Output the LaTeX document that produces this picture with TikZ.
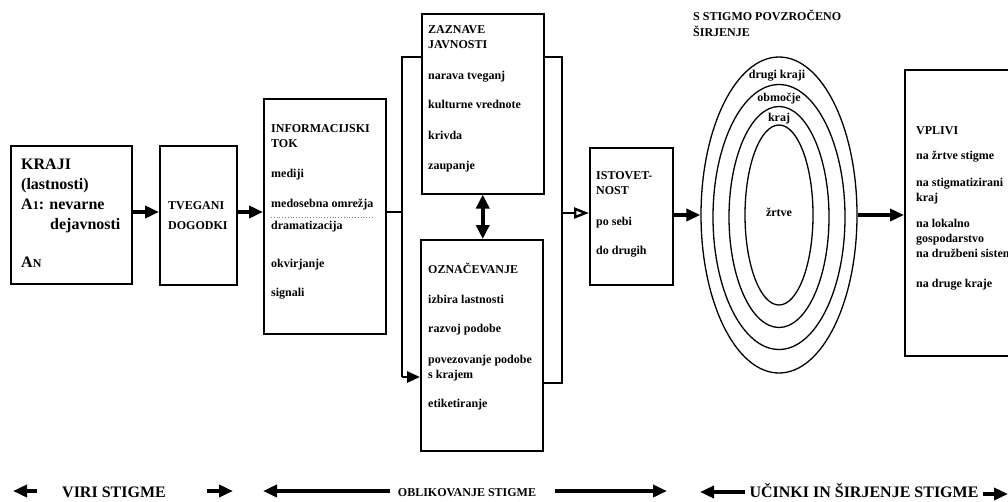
\documentclass[tikz,border=0pt]{standalone}
\usepackage{fontspec}
\setmainfont{Liberation Serif}
\usetikzlibrary{arrows.meta,shapes.geometric}
\begin{document}
\begin{tikzpicture}[x=1pt,y=-1pt,
  box/.style={draw, line width=1.5pt, anchor=north west, inner sep=0pt},
  txt/.style={anchor=base west, inner sep=0pt, font=\bfseries\fontsize{12}{14}\selectfont},
  bigtxt/.style={anchor=base west, inner sep=0pt, font=\bfseries\fontsize{16}{18}\selectfont},
  ctxt/.style={anchor=base, inner sep=0pt, font=\bfseries\fontsize{12}{14}\selectfont},
  fat/.style={line width=3.6pt, -{Triangle[length=14pt,width=12pt]}},
  bus/.style={line width=2.6pt},
  ring/.style={draw, ellipse, line width=1.3pt, inner sep=0pt}]
\useasboundingbox (0,0) rectangle (1008,501);
\clip (0,0) rectangle (1008,501);

% ---------- boxes ----------
\node[box, minimum width=121pt, minimum height=138pt] (kraji) at (10,145) {};
\node[box, minimum width=77pt, minimum height=139pt] (tveg) at (159,145) {};
\node[box, minimum width=122pt, minimum height=235pt] (info) at (263,98) {};
\node[box, minimum width=122pt, minimum height=180pt] (zaz) at (421,13) {};
\node[box, minimum width=122pt, minimum height=211pt] (ozn) at (420,239) {};
\node[box, minimum width=83pt, minimum height=137pt] (ist) at (589,147) {};
\node[box, minimum width=130pt, minimum height=286pt] (vpl) at (904,69) {};

% ---------- texts ----------
\foreach \y/\t [count=\i] in {169/{KRAJI}, 189/{(lastnosti)}, 209/{A{\fontsize{12}{12}\selectfont 1}: nevarne}, 267/{A{\fontsize{12}{12}\selectfont N}}}
  \node[bigtxt] (kr\i) at (21,\y) {\t};
\node[bigtxt] (kr5) at (50,229) {dejavnosti};

\foreach \y/\t [count=\i] in {209/{TVEGANI}, 229/{DOGODKI}}
  \node[txt] (tv\i) at (168,\y) {\t};

\foreach \y/\t [count=\i] in {132/{INFORMACIJSKI}, 147/{TOK}, 177/{mediji}, 207/{medosebna omrežja}, 229/{dramatizacija}, 267/{okvirjanje}, 296/{signali}}
  \node[txt] (in\i) at (271,\y) {\t};
\coordinate (dl1) at (271,217);
\coordinate (dl2) at (373,217);
\draw[gray, line width=0.8pt, dotted] (dl1) -- (dl2);

\foreach \y/\t [count=\i] in {33/{ZAZNAVE}, 48/{JAVNOSTI}, 79/{narava tveganj}, 108/{kulturne vrednote}, 139/{krivda}, 169/{zaupanje}}
  \node[txt] (za\i) at (428,\y) {\t};

\foreach \y/\t [count=\i] in {273/{OZNAČEVANJE}, 303/{izbira lastnosti}, 332/{razvoj podobe}, 363/{povezovanje podobe}, 378/{s krajem}, 407/{etiketiranje}}
  \node[txt] (oz\i) at (428,\y) {\t};

\foreach \y/\t [count=\i] in {179/{ISTOVET-}, 194/{NOST}, 225/{po sebi}, 254/{do drugih}}
  \node[txt] (is\i) at (596,\y) {\t};

\foreach \y/\t [count=\i] in {20/{S STIGMO POVZROČENO}, 36/{ŠIRJENJE}}
  \node[txt] (ti\i) at (693,\y) {\t};

\foreach \y/\t [count=\i] in {134/{VPLIVI}, 159/{na žrtve stigme}, 186/{na stigmatizirani}, 201/{kraj}, 227/{na lokalno}, 242/{gospodarstvo}, 257/{na družbeni sistem}, 287/{na druge kraje}}
  \node[txt] (vp\i) at (916,\y) {\t};

% ---------- ellipses ----------
\node[ring, minimum width=156pt, minimum height=316pt] (e1) at (779,215) {};
\node[ring, minimum width=132pt, minimum height=265pt] (e2) at (779,217) {};
\node[ring, minimum width=100pt, minimum height=221pt] (e3) at (779,217) {};
\node[ring, minimum width=68pt, minimum height=180pt] (e4) at (779,215) {};
\node[ctxt] (l1) at (777,78) {drugi kraji};
\node[ctxt] (l2) at (779,101) {območje};
\node[ctxt] (l3) at (779,121) {kraj};
\node[ctxt] (l4) at (779,216) {žrtve};

% ---------- connectors ----------
\coordinate (my) at (0,212);
\draw[fat] (kraji.east|-my) -- (tveg.west|-my);
\draw[fat] (tveg.east|-my) -- (info.west|-my);

\coordinate (lt) at (402,57);
\coordinate (lm) at (402,212);
\coordinate (lb) at (402,377);
\coordinate (rt) at (562,57);
\coordinate (rm) at (562,213);
\coordinate (rb) at (562,383);
\draw[bus] (info.east|-lm) -- (lm);
\draw[bus] (zaz.west|-lt) -- (lt) -- (lb);
\draw[bus, -{Triangle[length=13pt,width=11pt]}] (lb) -- (ozn.west|-lb);
\draw[bus] (zaz.east|-rt) -- (rt) -- (rb) -- (ozn.east|-rb);
\draw[line width=2.4pt, -{Triangle[open,length=15pt,width=11pt]}] (rm) -- (ist.west|-rm);

\draw[line width=4pt, {Triangle[length=14pt,width=13pt]}-{Triangle[length=14pt,width=13pt]}] (zaz.south) -- (zaz.south|-ozn.north);

\draw[fat] (ist.east|-0,215) -- (e1.west);
\draw[fat] (e1.east) -- (vpl.west|-e1.east);

% ---------- bottom row ----------
\node[anchor=base, inner sep=0pt, font=\bfseries\fontsize{16}{18}\selectfont] (viri) at (114,497) {VIRI STIGME};
\node[anchor=base, inner sep=0pt, font=\bfseries\fontsize{12}{14}\selectfont] (obl) at (467,496) {OBLIKOVANJE STIGME};
\node[anchor=base, inner sep=0pt, font=\bfseries\fontsize{16}{18}\selectfont] (uci) at (864,497) {UČINKI IN ŠIRJENJE STIGME};
\coordinate (b1) at (37,491);  \coordinate (b2) at (13,491);
\coordinate (b3) at (207,491); \coordinate (b4) at (233,491);
\coordinate (b5) at (390,491); \coordinate (b6) at (263,491);
\coordinate (b7) at (555,491); \coordinate (b8) at (667,491);
\coordinate (b9) at (745,492); \coordinate (b10) at (700,492);
\coordinate (b11) at (983,494); \coordinate (b12) at (1008,494);
\draw[fat] (b1) -- (b2);
\draw[fat] (b3) -- (b4);
\draw[fat] (b5) -- (b6);
\draw[fat] (b7) -- (b8);
\draw[fat] (b9) -- (b10);
\draw[fat] (b11) -- (b12);
\end{tikzpicture}
\end{document}
